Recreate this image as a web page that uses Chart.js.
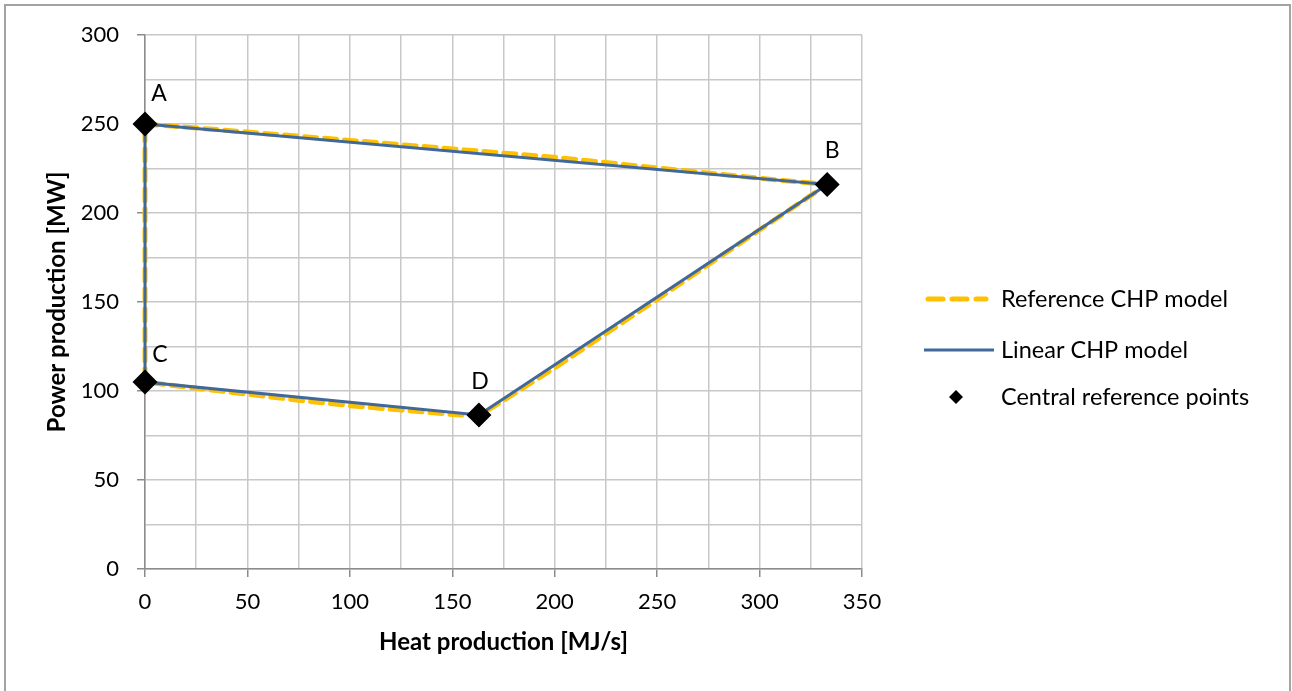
<!DOCTYPE html>
<html>
<head>
<meta charset="utf-8">
<title>CHP operating region</title>
<script src="https://cdn.jsdelivr.net/npm/chart.js@4.4.1/dist/chart.umd.min.js"></script>
<style>
  html, body { margin: 0; padding: 0; background: #fff; }
  #wrap { position: relative; width: 1292px; height: 691px; overflow: hidden; }
  #frame { position: absolute; left: 4px; top: 4px; width: 1287px; height: 720px; border: 2px solid #a3a3a3; box-sizing: border-box; pointer-events: none; }
</style>
</head>
<body>
<div id="wrap">
  <canvas id="chp" width="1292" height="691"></canvas>
  <div id="frame"></div>
</div>
<script>
// Corner points of the feasible operating region (heat MJ/s, power MW)
const POINT_LABELS = ['A', 'B', 'C', 'D'];
const POINT_HEAT   = [0, 333, 0, 163];
const POINT_POWER  = [250, 216, 105, 86.5];

// Linear model: straight edges A -> B -> D -> C -> A
const LINEAR_HEAT  = [0, 333, 163, 0, 0];
const LINEAR_POWER = [250, 216, 86.5, 105, 250];

// Reference model traced along the same boundary
const REF_HEAT  = [0, 50, 100, 150, 200, 250, 300, 333, 300, 250, 200, 163, 150, 125, 100, 75, 50, 25, 0, 0];
const REF_POWER = [250, 245.5, 240.8, 236, 231.3, 225.3, 219.5, 216, 190.5, 151.5, 113, 86, 86.8, 89.3, 91.8, 94.8, 98.2, 101.6, 105, 250];

const SERIES_NAMES = ['Central reference points', 'Linear CHP model', 'Reference CHP model'];

const X_MAX = 350, Y_MAX = 300, GRID_STEP = 25, LABEL_STEP = 50;

const FONT = 'Lato, "Open Sans", sans-serif';
const YELLOW = '#ffc000';
const BLUE = '#41689b';
const AXIS_GRAY = '#8c8c8c';
const GRID_GRAY = '#c8c8c8';

const zip = (xs, ys) => xs.map((x, i) => ({ x, y: ys[i] }));

// label offsets (px) from each corner marker
const LABEL_OFFSETS = { A: [14, -30], B: [5, -34], C: [15, -28], D: [1, -33] };

const pointLabels = {
  id: 'pointLabels',
  afterDatasetsDraw(chart) {
    const ctx = chart.ctx;
    const meta = chart.getDatasetMeta(0);
    ctx.save();
    ctx.font = '23px ' + FONT;
    ctx.fillStyle = '#000';
    ctx.textAlign = 'center';
    ctx.textBaseline = 'middle';
    meta.data.forEach((pt, i) => {
      const name = POINT_LABELS[i];
      const [dx, dy] = LABEL_OFFSETS[name];
      ctx.fillText(name, pt.x + dx, pt.y + dy);
    });
    ctx.restore();
  }
};

// legend on the right, listed reference / linear / points
const sideLegend = {
  id: 'sideLegend',
  afterDraw(chart) {
    const ctx = chart.ctx;
    const rows = [
      { ds: 2, y: 299 },
      { ds: 1, y: 350 },
      { ds: 0, y: 397 }
    ];
    const x0 = 926, x1 = 990, tx = 1001;
    ctx.save();
    ctx.font = '23.5px ' + FONT;
    ctx.textBaseline = 'middle';
    rows.forEach(r => {
      const ds = chart.data.datasets[r.ds];
      if (r.ds === 0) {
        const cx = (x0 + x1) / 2 - 2, s = 7;
        ctx.fillStyle = '#000';
        ctx.beginPath();
        ctx.moveTo(cx - s, r.y); ctx.lineTo(cx, r.y - s);
        ctx.lineTo(cx + s, r.y); ctx.lineTo(cx, r.y + s);
        ctx.closePath(); ctx.fill();
      } else {
        ctx.strokeStyle = ds.borderColor;
        ctx.lineWidth = ds.borderWidth;
        ctx.lineCap = r.ds === 2 ? 'round' : 'butt';
        ctx.setLineDash(r.ds === 2 ? [15, 9] : []);
        ctx.beginPath();
        ctx.moveTo(r.ds === 2 ? x0 + 2 : x0 - 2, r.y);
        ctx.lineTo(r.ds === 2 ? x1 - 4 : x1 + 4, r.y);
        ctx.stroke();
        ctx.setLineDash([]);
      }
      ctx.fillStyle = '#000';
      ctx.fillText(SERIES_NAMES[r.ds], tx, r.y);
    });
    ctx.restore();
  }
};

Chart.defaults.font.family = FONT;
Chart.defaults.color = '#000';

new Chart(document.getElementById('chp'), {
  type: 'scatter',
  data: {
    datasets: [
      {
        label: SERIES_NAMES[0],
        data: zip(POINT_HEAT, POINT_POWER),
        showLine: false,
        pointStyle: 'rectRot',
        pointRadius: 12.5,
        backgroundColor: '#000',
        borderColor: '#000',
        borderWidth: 0,
        clip: false
      },
      {
        label: SERIES_NAMES[1],
        data: zip(LINEAR_HEAT, LINEAR_POWER),
        showLine: true,
        borderColor: BLUE,
        borderWidth: 3,
        pointRadius: 0,
        tension: 0,
        clip: false
      },
      {
        label: SERIES_NAMES[2],
        data: zip(REF_HEAT, REF_POWER),
        showLine: true,
        borderColor: YELLOW,
        borderWidth: 5,
        borderDash: [12, 8],
        borderCapStyle: 'round',
        pointRadius: 0,
        tension: 0,
        clip: false
      }
    ]
  },
  options: {
    responsive: false,
    animation: false,
    layout: { padding: { left: 0, top: 35, right: 1292 - 862, bottom: 0 } },
    plugins: { legend: { display: false }, tooltip: { enabled: false } },
    scales: {
      x: {
        type: 'linear',
        min: 0, max: X_MAX,
        afterFit: s => { s.height = 691 - 569; },
        ticks: {
          stepSize: GRID_STEP,
          padding: 12,
          font: { size: 22 },
          maxRotation: 0,
          autoSkip: false,
          callback: v => (v % LABEL_STEP === 0 ? v : '')
        },
        grid: {
          color: GRID_GRAY,
          lineWidth: 1.5,
          tickLength: 8,
          tickColor: c => (c.tick && c.tick.value % LABEL_STEP === 0 ? AXIS_GRAY : 'rgba(0,0,0,0)'),
          tickWidth: 1.5
        },
        border: { color: AXIS_GRAY, width: 1.5 },
        title: {
          display: true,
          text: 'Heat production [MJ/s]',
          font: { size: 24, weight: 'bold' },
          padding: { top: 0, bottom: 34 }
        }
      },
      y: {
        type: 'linear',
        min: 0, max: Y_MAX,
        afterFit: s => { s.width = 145; },
        ticks: {
          stepSize: GRID_STEP,
          padding: 18,
          font: { size: 22 },
          autoSkip: false,
          callback: v => (v % LABEL_STEP === 0 ? v : '')
        },
        grid: {
          color: GRID_GRAY,
          lineWidth: 1.5,
          tickLength: 8,
          tickColor: c => (c.tick && c.tick.value % LABEL_STEP === 0 ? AXIS_GRAY : 'rgba(0,0,0,0)'),
          tickWidth: 1.5
        },
        border: { color: AXIS_GRAY, width: 1.5 },
        title: {
          display: true,
          text: 'Power production [MW]',
          font: { size: 24, weight: 'bold' },
          padding: { top: 43, bottom: 0 }
        }
      }
    }
  },
  plugins: [pointLabels, sideLegend]
});
</script>
</body>
</html>
